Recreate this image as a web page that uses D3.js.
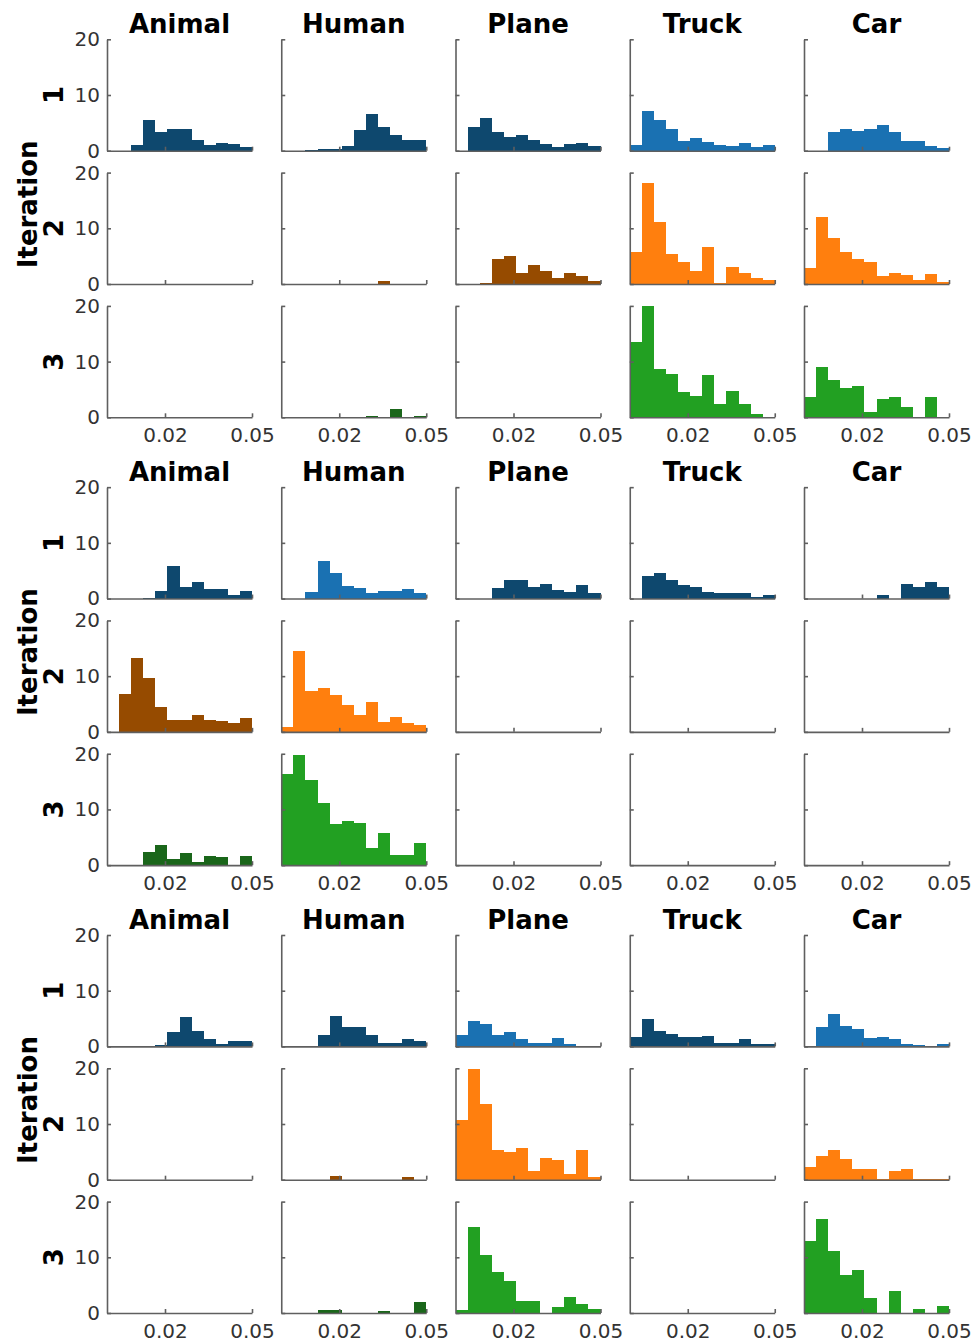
<!DOCTYPE html>
<html lang="en">
    <head>
        <meta charset="utf-8">
        <title>Histograms per iteration</title>
        <script src="https://d3js.org/d3.v7.min.js"></script>
        <style type="text/css">
         body { margin: 0; background: #fff; }
         text { font-family: "DejaVu Sans", sans-serif; }
         .title, .rowlab { font-weight: bold; font-size: 26px; fill: #000; }
         .axis path, .axis line { stroke: #5f5f5f; stroke-width: 1.6; }
         .axis text { font-size: 20px; fill: #333; font-family: "DejaVu Sans", sans-serif; }
        </style>
    </head>
    <body>
        <script type="text/javascript">
         //Categories and labels
         var categories = ["Animal", "Human", "Plane", "Truck", "Car"];
         var iterations = ["1", "2", "3"];
         var xDomain = [0, 0.05];
         var binCount = 12;
         var xTicks = [0.02, 0.05];
         var yTicks = [0, 10, 20];

         //Bin heights, [iteration][category][bin]
         var block1Counts = [
             [[0, 0, 1.0, 5.5, 3.4, 3.9, 3.9, 2.0, 1.0, 1.3, 1.2, 0.7],
              [0, 0, 0.1, 0.3, 0.3, 0.9, 3.7, 6.6, 4.3, 2.9, 1.9, 1.9],
              [0, 4.2, 5.8, 3.4, 2.5, 2.8, 1.9, 1.2, 0.6, 1.2, 1.4, 0.9],
              [1.0, 7.2, 5.5, 3.9, 1.7, 2.2, 1.5, 1.1, 0.9, 1.4, 0.6, 1.1],
              [0, 0, 3.3, 3.9, 3.6, 3.9, 4.6, 3.4, 1.8, 1.7, 0.9, 0.5]],
             [[0, 0, 0, 0, 0, 0, 0, 0, 0, 0, 0, 0],
              [0, 0, 0, 0, 0, 0, 0, 0, 0.5, 0, 0, 0],
              [0, 0, 0.1, 4.4, 5.1, 2.0, 3.4, 2.4, 1.0, 1.9, 1.5, 0.6],
              [5.8, 18.1, 11.1, 5.3, 3.9, 2.4, 6.7, 0.1, 3.0, 1.9, 1.0, 0.8],
              [2.9, 12.1, 8.3, 5.7, 4.4, 4.0, 1.4, 1.9, 1.7, 0.8, 1.8, 0.4]],
             [[0, 0, 0, 0, 0, 0, 0, 0, 0, 0, 0, 0],
              [0, 0, 0, 0, 0, 0, 0, 0.2, 0, 1.5, 0, 0.2],
              [0, 0, 0, 0, 0, 0, 0, 0, 0, 0, 0, 0],
              [13.5, 19.9, 8.7, 7.8, 4.5, 3.9, 7.6, 2.4, 4.8, 2.3, 0.6, 0.1],
              [3.7, 9.0, 6.7, 5.3, 5.7, 0.9, 3.3, 3.7, 1.9, 0, 3.7, 0]]
         ];
         var block2Counts = [
             [[0, 0, 0, 0.1, 1.4, 5.8, 2.0, 2.9, 1.7, 1.7, 0.7, 1.4],
              [0, 0, 1.1, 6.8, 4.5, 2.3, 1.9, 1.0, 1.4, 1.4, 1.7, 1.0],
              [0, 0, 0, 1.9, 3.4, 3.3, 2.0, 2.6, 1.6, 1.1, 2.4, 1.0],
              [0, 4.0, 4.5, 3.4, 2.4, 2.0, 1.2, 1.0, 1.0, 1.0, 0.2, 0.6],
              [0, 0, 0, 0, 0, 0, 0.6, 0, 2.6, 2.0, 2.9, 2.0]],
             [[0, 6.8, 13.2, 9.6, 4.4, 2.1, 2.1, 3.1, 2.2, 1.9, 1.6, 2.5],
              [0.9, 14.6, 7.3, 7.8, 6.6, 4.9, 3.0, 5.3, 1.7, 2.6, 1.5, 1.2],
              [0, 0, 0, 0, 0, 0, 0, 0, 0, 0, 0, 0],
              [0, 0, 0, 0, 0, 0, 0, 0, 0, 0, 0, 0],
              [0, 0, 0, 0, 0, 0, 0, 0, 0, 0, 0, 0]],
             [[0, 0, 0, 2.4, 3.7, 1.1, 2.1, 0.6, 1.7, 1.5, 0.1, 1.6],
              [16.4, 19.8, 15.2, 11.2, 7.3, 7.9, 7.5, 3.0, 5.7, 1.8, 1.9, 4.0],
              [0, 0, 0, 0, 0, 0, 0, 0, 0, 0, 0, 0],
              [0, 0, 0, 0, 0, 0, 0, 0, 0, 0, 0, 0],
              [0, 0, 0, 0, 0, 0, 0, 0, 0, 0, 0, 0]]
         ];
         var block3Counts = [
             [[0, 0, 0, 0, 0.3, 2.6, 5.2, 2.8, 1.4, 0.5, 0.9, 0.9],
              [0, 0, 0.05, 2.0, 5.4, 3.4, 3.4, 2.0, 0.6, 0.6, 1.4, 0.9],
              [2.0, 4.5, 4.0, 2.1, 2.5, 1.3, 0.7, 0.7, 1.5, 0.5, 0.1, 0.1],
              [1.7, 4.9, 2.7, 2.2, 1.6, 1.6, 1.8, 0.6, 0.6, 1.3, 0.5, 0.5],
              [0, 3.4, 5.8, 3.7, 3.1, 1.5, 1.7, 1.3, 0.4, 0.3, 0.1, 0.4]],
             [[0, 0, 0, 0, 0, 0, 0, 0, 0, 0, 0, 0],
              [0, 0, 0, 0, 0.7, 0, 0, 0, 0, 0, 0.4, 0],
              [10.7, 19.8, 13.6, 5.4, 5.0, 5.7, 1.6, 3.9, 3.5, 1.0, 5.4, 0.5],
              [0, 0, 0, 0, 0, 0, 0, 0, 0, 0, 0, 0],
              [2.2, 4.3, 5.3, 3.7, 1.9, 1.9, 0.1, 1.5, 1.9, 0.1, 0.1, 0.1]],
             [[0, 0, 0, 0, 0, 0, 0, 0, 0, 0, 0, 0],
              [0, 0, 0, 0.5, 0.5, 0, 0, 0, 0.4, 0, 0, 1.9],
              [0.5, 15.5, 10.4, 7.3, 5.7, 2.1, 2.1, 0, 1.0, 2.8, 1.6, 0.8],
              [0, 0, 0, 0, 0, 0, 0, 0, 0, 0, 0, 0],
              [12.9, 16.9, 11.1, 6.9, 7.8, 2.7, 0, 4.0, 0, 0.7, 0, 1.2]]
         ];

         //Which shade each category column gets in a block
         var block1Shade = ["dark", "dark", "dark", "light", "light"];
         var block2Shade = ["dark", "light", "dark", "dark", "dark"];
         var block3Shade = ["dark", "dark", "light", "dark", "light"];

         //Colours per iteration row
         var palette = [
             {dark: "#0e486e", light: "#1a71b2"},
             {dark: "#964b00", light: "#ff7f0e"},
             {dark: "#1a661a", light: "#22a022"}
         ];

         var blocks = [
             {counts: block1Counts, shade: block1Shade},
             {counts: block2Counts, shade: block2Shade},
             {counts: block3Counts, shade: block3Shade}
         ];

         //Width and height
         var width = 977;
         var height = 1342;
         var plotW = 145;
         var plotH = 111.4;

         var x = d3.scaleLinear().domain(xDomain).range([0, plotW]);
         var y = d3.scaleLinear().domain([0, 20]).range([plotH, 0]);
         var edges = d3.range(binCount + 1).map(function(i) {
             return xDomain[0] + i * (xDomain[1] - xDomain[0]) / binCount;
         });

         var svg = d3.select("body")
                     .append("svg")
                     .attr("width", width)
                     .attr("height", height);

         blocks.forEach(function(blk, b) {
             var top = 39.3 + b * 447.85;

             categories.forEach(function(cat, c) {
                 svg.append("text")
                    .attr("class", "title")
                    .attr("x", 107 + c * 174.25 + plotW / 2)
                    .attr("y", top - 6)
                    .attr("text-anchor", "middle")
                    .text(cat);
             });

             iterations.forEach(function(it, r) {
                 var rowTop = top + r * 133.3;
                 var midY = rowTop + plotH / 2;

                 svg.append("text")
                    .attr("class", "rowlab")
                    .attr("text-anchor", "middle")
                    .attr("transform", "translate(63," + midY + ") rotate(-90)")
                    .text(it);
                 if (r === 1) {
                     svg.append("text")
                        .attr("class", "rowlab")
                        .attr("text-anchor", "middle")
                        .attr("transform", "translate(37," + (midY - 24) + ") rotate(-90)")
                        .text("Iteration");
                 }

                 categories.forEach(function(cat, c) {
                     var left = 107 + c * 174.25;
                     var g = svg.append("g")
                                .attr("transform", "translate(" + left + "," + rowTop + ")");
                     var colour = palette[r][blk.shade[c]];
                     var bins = blk.counts[r][c].map(function(v, i) {
                         return {v: v, x0: edges[i], x1: edges[i + 1]};
                     }).filter(function(d) { return d.v > 0; });

                     g.selectAll("rect")
                      .data(bins)
                      .enter()
                      .append("rect")
                      .attr("x", function(d) { return x(d.x0); })
                      .attr("width", function(d) { return x(d.x1) - x(d.x0); })
                      .attr("y", function(d) { return y(d.v); })
                      .attr("height", function(d) { return Math.max(1, y(0) - y(d.v)); })
                      .attr("shape-rendering", "crispEdges")
                      .style("fill", colour);

                     var yAxis = d3.axisLeft(y)
                                   .tickValues(yTicks)
                                   .tickSizeInner(-4)
                                   .tickSizeOuter(0)
                                   .tickPadding(7)
                                   .tickFormat(c === 0 ? d3.format("d") : function() { return ""; });
                     var xAxis = d3.axisBottom(x)
                                   .tickValues(xTicks)
                                   .tickSizeInner(-4)
                                   .tickSizeOuter(0)
                                   .tickPadding(11)
                                   .tickFormat(r === 2 ? function(d) { return d.toFixed(2); } : function() { return ""; });

                     g.append("g")
                      .attr("class", "axis")
                      .call(yAxis)
                      .attr("font-family", null)
                      .attr("font-size", null);
                     g.append("g")
                      .attr("class", "axis")
                      .attr("transform", "translate(0," + plotH + ")")
                      .call(xAxis)
                      .attr("font-family", null)
                      .attr("font-size", null);
                 });
             });
         });
        </script>
    </body>
</html>
